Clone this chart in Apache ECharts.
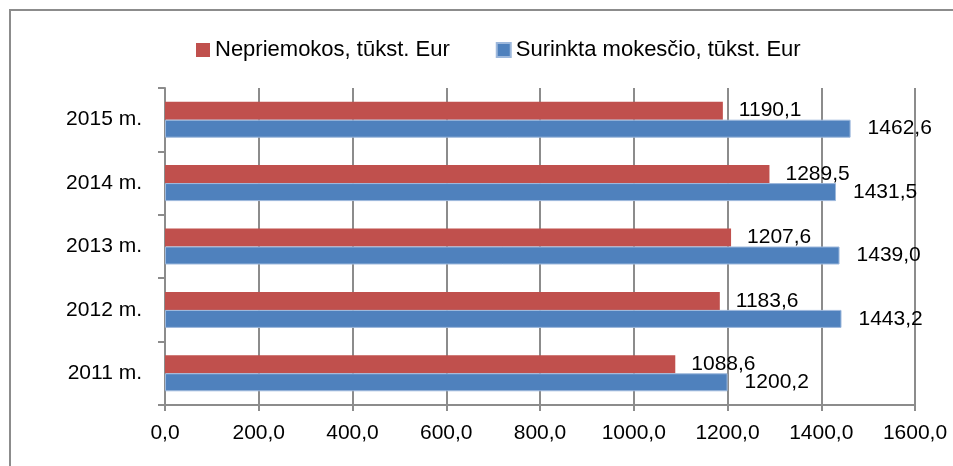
<!DOCTYPE html>
<html>
<head>
<meta charset="utf-8">
<script src="https://cdn.jsdelivr.net/npm/echarts@6/dist/echarts.min.js"></script>
<style>
  html, body { margin: 0; padding: 0; background: #fff; overflow: hidden; }
  #wrap { position: relative; width: 953px; height: 466px; }
  #frame {
    position: absolute; left: 9px; top: 9px; width: 960px; height: 480px;
    border: 2px solid #8c8c8c; box-sizing: border-box;
  }
  #chart { position: absolute; left: 0; top: 0; width: 953px; height: 466px; }
</style>
</head>
<body>
<div id="wrap">
  <div id="frame"></div>
  <div id="chart"></div>
</div>
<script>
// duomenys
const years = ['2011 m.', '2012 m.', '2013 m.', '2014 m.', '2015 m.']
const nepriemokos = [1088.6, 1183.6, 1207.6, 1289.5, 1190.1]
const surinkta = [1200.2, 1443.2, 1439.0, 1431.5, 1462.6]

const fontName = 'Liberation Sans'
const fmt = v => Number(v).toFixed(1).replace('.', ',')

const myChart = echarts.init(document.getElementById('chart'))

myChart.setOption({
  animation: false,
  textStyle: { fontFamily: fontName, color: '#000' },
  legend: {
    left: 191,
    top: 34,
    icon: 'rect',
    itemWidth: 14,
    itemHeight: 14,
    itemGap: 46,
    textStyle: { fontSize: 22, color: '#000' },
    data: ['Nepriemokos, tūkst. Eur', 'Surinkta mokesčio, tūkst. Eur']
  },
  grid: { left: 165, right: 38, top: 88, bottom: 61, containLabel: false },
  xAxis: {
    type: 'value',
    min: 0,
    max: 1600,
    interval: 200,
    axisLine: { show: true, lineStyle: { color: '#8c8c8c', width: 2 } },
    axisTick: { show: true, length: 6, lineStyle: { color: '#8c8c8c', width: 2 } },
    splitLine: { show: true, lineStyle: { color: '#8c8c8c', width: 2 } },
    axisLabel: { fontSize: 21, color: '#000', margin: 18, formatter: fmt }
  },
  yAxis: {
    type: 'category',
    data: years,
    axisLine: { show: true, lineStyle: { color: '#8c8c8c', width: 2 } },
    axisTick: { show: true, length: 7, lineStyle: { color: '#8c8c8c', width: 2 } },
    axisLabel: { fontSize: 21, color: '#000', margin: 23 }
  },
  series: [
    {
      name: 'Nepriemokos, tūkst. Eur',
      type: 'bar',
      data: nepriemokos,
      barWidth: 18,
      barGap: '0%',
      itemStyle: { color: '#c0504d' },
      label: {
        show: true, position: 'right', distance: 16,
        fontSize: 21, color: '#000', formatter: p => fmt(p.value)
      }
    },
    {
      name: 'Surinkta mokesčio, tūkst. Eur',
      type: 'bar',
      data: surinkta,
      barWidth: 18,
      barGap: '0%',
      itemStyle: { color: '#4f81bd', borderColor: '#9db8dc', borderWidth: 1 },
      label: {
        show: true, position: 'right', distance: 17,
        fontSize: 21, color: '#000', formatter: p => fmt(p.value)
      }
    }
  ]
})
</script>
</body>
</html>
